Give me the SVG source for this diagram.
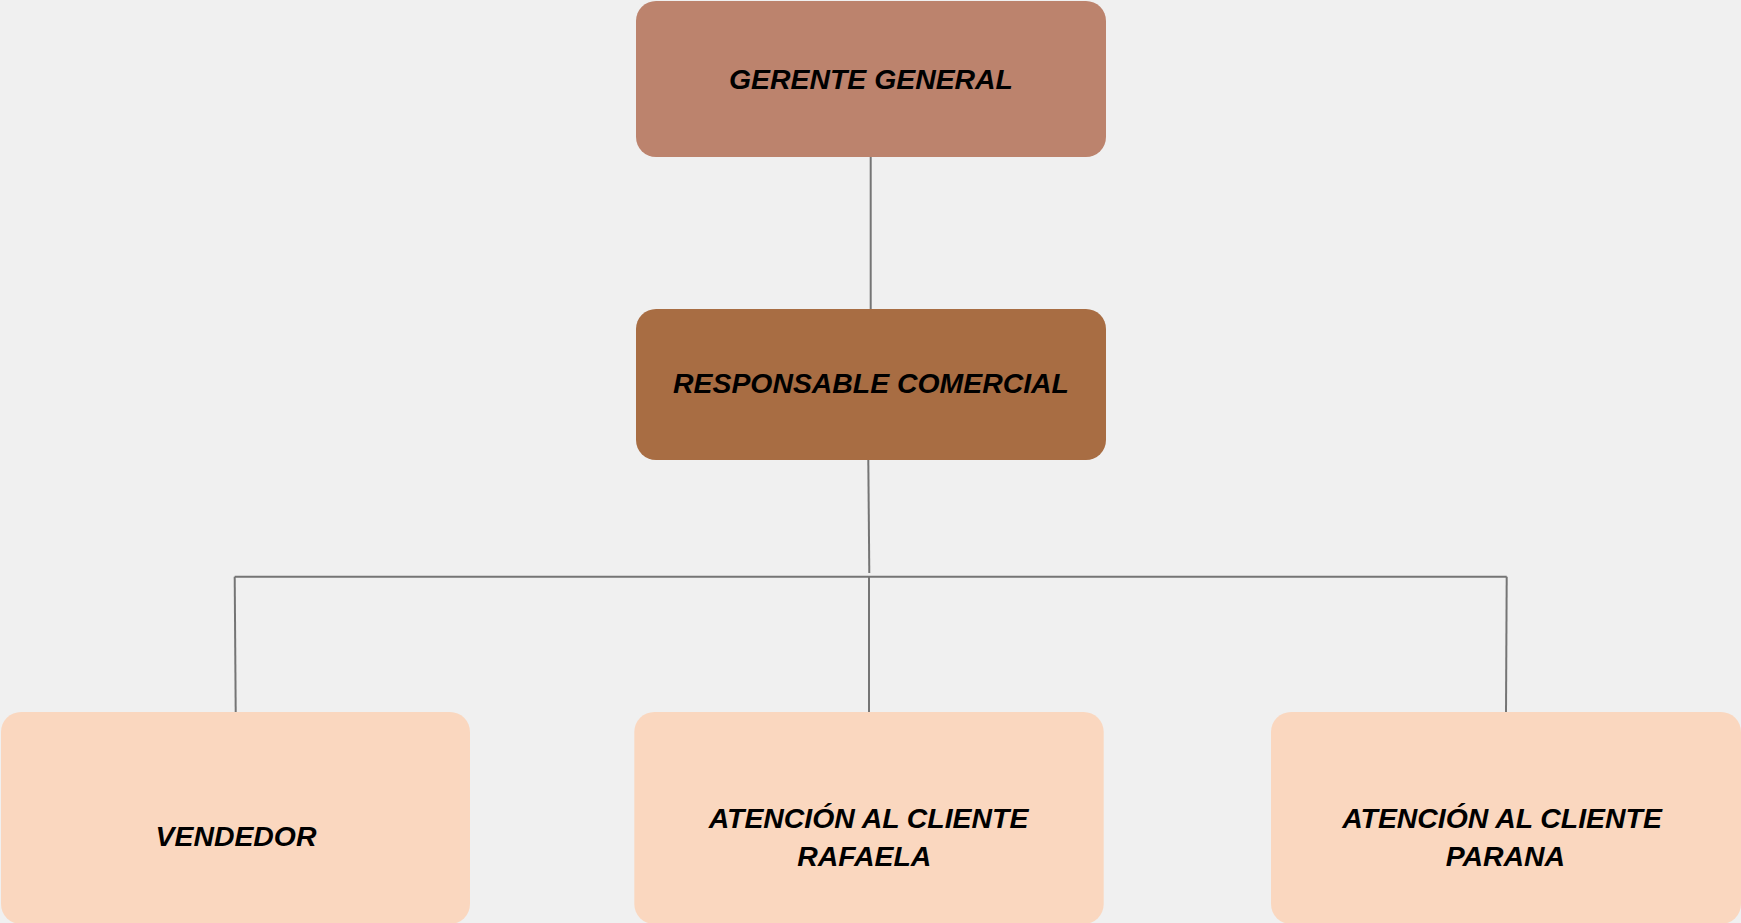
<svg xmlns="http://www.w3.org/2000/svg" width="1741" height="923" viewBox="0 0 1741 923">
  <style>
    .lbl { font-family: "Liberation Sans", Arial, sans-serif; font-size: 28.4px; font-weight: bold; font-style: italic; fill: #000; text-anchor: middle; }
    .conn { stroke: #757575; stroke-width: 2; fill: none; }
    .top { fill: #BC836D; }
    .mid { fill: #A86D43; }
    .leaf { fill: #FAD7BF; }
  </style>
  <rect width="1741" height="923" fill="#F0F0F0"/>

  <!-- connectors -->
  <g id="connectors">
    <line class="conn" x1="870.7" y1="157" x2="870.7" y2="309"/>
    <line class="conn" x1="868.3" y1="460" x2="869.3" y2="573"/>
    <line class="conn" x1="234.7" y1="576.7" x2="1506.7" y2="576.7"/>
    <line class="conn" x1="234.7" y1="576.7" x2="235.7" y2="712"/>
    <line class="conn" x1="869" y1="576.7" x2="869" y2="712"/>
    <line class="conn" x1="1506.7" y1="576.7" x2="1506" y2="712"/>
  </g>

  <g id="gerente-general">
    <rect class="top" x="636" y="1" width="470" height="156" rx="20"/>
    <text class="lbl" x="871" y="89">GERENTE GENERAL</text>
  </g>

  <g id="responsable-comercial">
    <rect class="mid" x="636" y="309" width="470" height="151" rx="20"/>
    <text class="lbl" x="871" y="393">RESPONSABLE COMERCIAL</text>
  </g>

  <g id="vendedor">
    <rect class="leaf" x="1" y="712" width="469" height="212" rx="20"/>
    <text class="lbl" x="236" y="846">VENDEDOR</text>
  </g>

  <g id="atencion-rafaela">
    <rect class="leaf" x="634.3" y="712" width="469.4" height="212" rx="20"/>
    <text class="lbl" x="868.5" y="827.7">ATENCIÓN AL CLIENTE</text>
    <text class="lbl" x="864.3" y="865.7">RAFAELA</text>
  </g>

  <g id="atencion-parana">
    <rect class="leaf" x="1271" y="712" width="470" height="212" rx="20"/>
    <text class="lbl" x="1502" y="827.7">ATENCIÓN AL CLIENTE</text>
    <text class="lbl" x="1505.4" y="865.7">PARANA</text>
  </g>
</svg>
